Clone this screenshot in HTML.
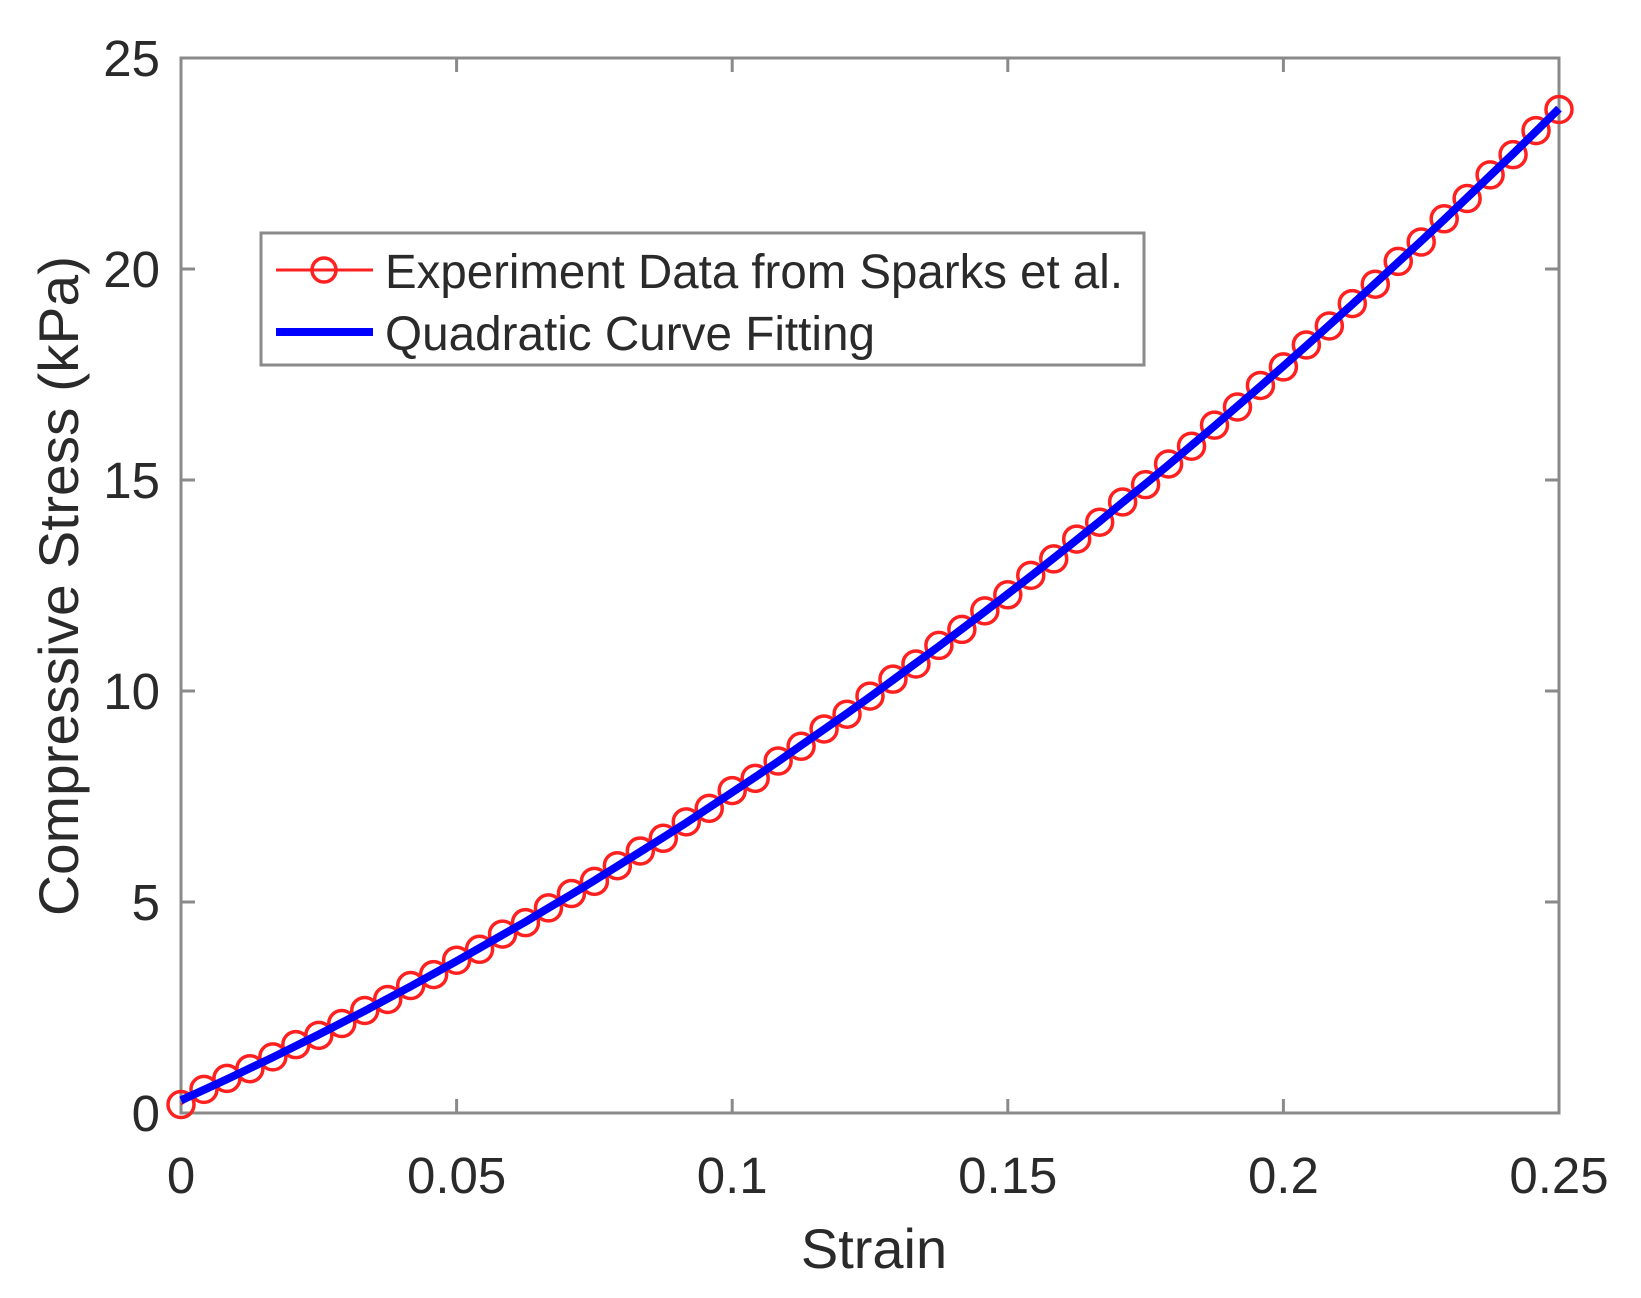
<!DOCTYPE html>
<html><head><meta charset="utf-8"><style>body{margin:0;background:#fff}svg{display:block}text{font-family:"Liberation Sans",Arial,sans-serif;fill:#2a2a2a}</style></head>
<body>
<svg id="chart" width="1641" height="1298" viewBox="0 0 1641 1298" xmlns="http://www.w3.org/2000/svg">
<g id="axes"></g>
<g id="series"></g>
<g id="legend">
<rect x="261" y="233" width="883" height="132" fill="#fff" stroke="#8a8a8a" stroke-width="3"/>
<line x1="276" y1="270" x2="373" y2="270" stroke="#ff2020" stroke-width="3"/>
<circle cx="324" cy="270" r="12" fill="none" stroke="#ff2020" stroke-width="3.5"/>
<text x="385" y="288" font-size="48" textLength="738" lengthAdjust="spacingAndGlyphs">Experiment Data from Sparks et al.</text>
<line x1="276" y1="332" x2="373" y2="332" stroke="#0000ff" stroke-width="8"/>
<text x="385" y="350" font-size="48" textLength="490" lengthAdjust="spacingAndGlyphs">Quadratic Curve Fitting</text>
</g>
</svg>
<script>
const strain = [];
const xTicks = [0, 0.05, 0.1, 0.15, 0.2, 0.25];
const xTickLabels = ["0", "0.05", "0.1", "0.15", "0.2", "0.25"];
const yTicks = [0, 5, 10, 15, 20, 25];
const yTickLabels = ["0", "5", "10", "15", "20", "25"];
const experimentStress = [0.20,0.56,0.82,1.05,1.33,1.62,1.84,2.12,2.43,2.69,3.02,3.28,3.62,3.88,4.24,4.51,4.86,5.20,5.49,5.86,6.21,6.51,6.90,7.22,7.64,7.93,8.34,8.69,9.10,9.45,9.88,10.28,10.64,11.08,11.46,11.90,12.28,12.74,13.13,13.60,14.00,14.48,14.89,15.38,15.80,16.30,16.73,17.24,17.68,18.20,18.65,19.18,19.64,20.18,20.64,21.19,21.67,22.23,22.71,23.28,23.78];
const fitStress = [0.30,0.55,0.80,1.06,1.32,1.59,1.86,2.14,2.42,2.71,3.00,3.30,3.60,3.91,4.22,4.53,4.86,5.18,5.51,5.85,6.19,6.53,6.88,7.24,7.60,7.96,8.33,8.71,9.09,9.47,9.86,10.26,10.66,11.06,11.47,11.88,12.30,12.72,13.15,13.58,14.02,14.47,14.91,15.36,15.82,16.28,16.75,17.22,17.70,18.18,18.67,19.16,19.66,20.16,20.66,21.17,21.69,22.21,22.73,23.26,23.80];
for (let i = 0; i < experimentStress.length; i++) strain.push(0.25 * i / (experimentStress.length - 1));

const L = 181, R = 1559, T = 58, B = 1113;
const xs = v => L + (v - 0) / 0.25 * (R - L);
const ys = v => B - (v - 0) / 25 * (B - T);
const NS = "http://www.w3.org/2000/svg";
function mk(tag, parent, attrs) { const e = document.createElementNS(NS, tag); for (const k in attrs) e.setAttribute(k, attrs[k]); parent.appendChild(e); return e; }
const axes = document.getElementById('axes');
const series = document.getElementById('series');

xTicks.forEach((t, i) => {
  const x = xs(t);
  const a = mk('line', axes, {x1: x, y1: B, x2: x, y2: B - 14, stroke: '#8a8a8a', 'stroke-width': 3});
  
  
  const b = mk('line', axes, {x1: x, y1: T, x2: x, y2: T + 14, stroke: '#8a8a8a', 'stroke-width': 3});
  
  
  const tx = mk('text', axes, {x: x, y: 1193, 'font-size': 51, 'text-anchor': 'middle'});
  tx.textContent = xTickLabels[i];
  
  
});
yTicks.forEach((t, i) => {
  const y = ys(t);
  const a = mk('line', axes, {x1: L, y1: y, x2: L + 14, y2: y, stroke: '#8a8a8a', 'stroke-width': 3});
  
  
  const b = mk('line', axes, {x1: R, y1: y, x2: R - 14, y2: y, stroke: '#8a8a8a', 'stroke-width': 3});
  
  
  const tx = mk('text', axes, {x: 160, y: y + 18, 'font-size': 51, 'text-anchor': 'end'});
  tx.textContent = yTickLabels[i];
  
  
});
const frame = mk('rect', axes, {x: L, y: T, width: R - L, height: B - T, fill: 'none', stroke: '#8a8a8a', 'stroke-width': 3});


const xt = mk('text', axes, {x: 874, y: 1268, 'font-size': 56, 'text-anchor': 'middle'});
xt.textContent = 'Strain';


const yt = mk('text', axes, {x: 0, y: 0, 'font-size': 56, 'text-anchor': 'middle', textLength: 660, lengthAdjust: 'spacingAndGlyphs', transform: 'translate(78,586) rotate(-90)'});
yt.textContent = 'Compressive Stress (kPa)';



const expPts = strain.map((s, i) => xs(s).toFixed(1) + ',' + ys(experimentStress[i]).toFixed(1)).join(' ');
const el = mk('polyline', series, {points: expPts, fill: 'none', stroke: '#ff2020', 'stroke-width': 2});


strain.forEach((s, i) => {
  const c = mk('circle', series, {cx: xs(s), cy: ys(experimentStress[i]), r: 13, fill: 'none', stroke: '#ff2020', 'stroke-width': 3.5});
  
  
});
const fitPts = strain.map((s, i) => xs(s).toFixed(1) + ',' + ys(fitStress[i]).toFixed(1)).join(' ');
const fl = mk('polyline', series, {points: fitPts, fill: 'none', stroke: '#0000ff', 'stroke-width': 8, 'stroke-linejoin': 'round'});


</script>
</body></html>
